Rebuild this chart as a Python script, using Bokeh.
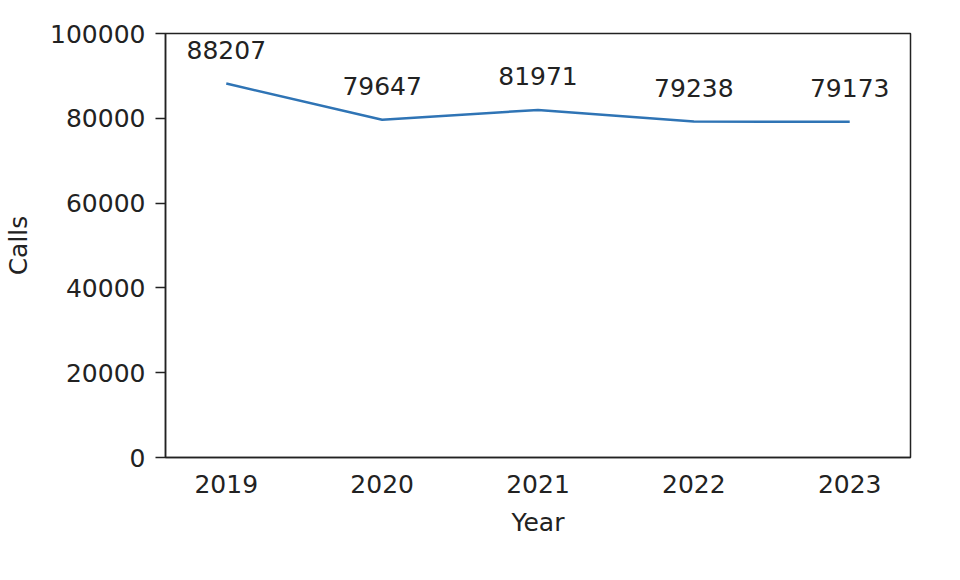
from bokeh.plotting import figure
from bokeh.embed import file_html
from bokeh.resources import INLINE
from bokeh.models import FixedTicker, PrintfTickFormatter, Range1d, ColumnDataSource
from bokeh.core.properties import value

years = [2019, 2020, 2021, 2022, 2023]
calls = [88207, 79647, 81971, 79238, 79173]
labels = [str(c) for c in calls]
y_ticks = [0, 20000, 40000, 60000, 80000, 100000]

FONT = "DejaVu Sans"
TXT = "#222222"

p = figure(width=960, height=580, output_backend="svg", toolbar_location=None,
           x_range=Range1d(2018.61, 2023.39), y_range=Range1d(0, 100000),
           min_border_left=165, min_border_right=50, min_border_top=33, min_border_bottom=123)

src = ColumnDataSource(dict(x=years, y=calls, t=labels))
p.line("x", "y", source=src, line_color="#2f74b5", line_width=2.5)
p.text("x", "y", text="t", source=src, text_font=value(FONT), text_font_size="25px",
       text_color=TXT, text_align="center", text_baseline="alphabetic", y_offset=-34)

p.xgrid.visible = False
p.ygrid.visible = False
p.outline_line_color = "#222222"
p.outline_line_width = 1.5
p.outline_line_alpha = 1.0

for ax in (p.xaxis[0], p.yaxis[0]):
    ax.major_label_text_font = FONT
    ax.major_label_text_font_size = "25px"
    ax.major_label_text_color = TXT
    ax.axis_label_text_font = FONT
    ax.axis_label_text_font_size = "25px"
    ax.axis_label_text_color = TXT
    ax.axis_label_text_font_style = "normal"
    ax.axis_line_color = "#222222"
    ax.axis_line_width = 1.5
    ax.major_tick_line_color = "#222222"
    ax.major_tick_line_width = 1.5
    ax.major_tick_out = 10
    ax.major_tick_in = 0
    ax.minor_tick_line_color = None
    ax.major_label_standoff = 10
    ax.axis_label_standoff = 14

p.xaxis[0].major_tick_line_color = None
p.xaxis[0].major_tick_out = 0
p.xaxis[0].major_label_standoff = 17
p.xaxis[0].axis_label_standoff = 12

p.xaxis[0].ticker = FixedTicker(ticks=years)
p.xaxis[0].formatter = PrintfTickFormatter(format="%d")
p.yaxis[0].ticker = FixedTicker(ticks=y_ticks)
p.yaxis[0].formatter = PrintfTickFormatter(format="%d")
p.xaxis[0].axis_label = "Year"
p.yaxis[0].axis_label = "Calls"

open("out.html", "w").write(file_html(p, INLINE))
